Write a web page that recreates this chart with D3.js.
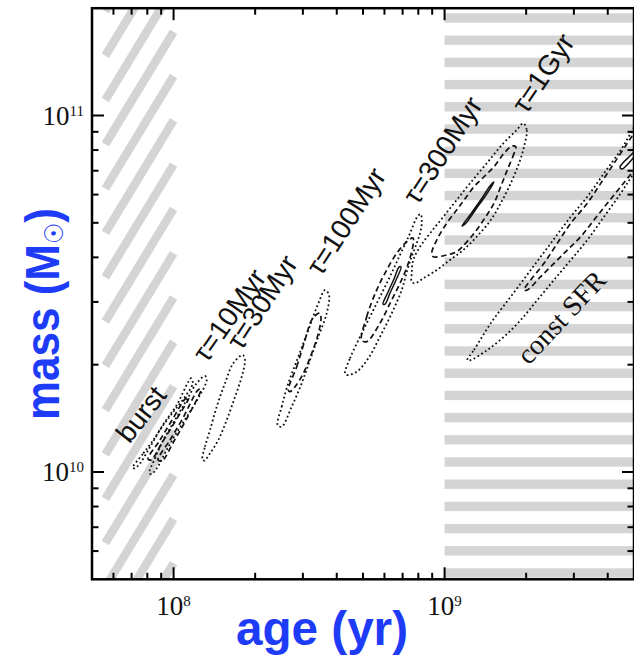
<!DOCTYPE html>
<html><head><meta charset="utf-8">
<script src="https://cdn.jsdelivr.net/npm/d3@7"></script>
<style>body{margin:0;background:#fff}svg{display:block}</style>
</head><body>
<svg id="chart" width="634" height="655"></svg>
<script>
// ---------------- DATA (age in Myr, mass in 1e10 Msun) ----------------
const burstDotted = [[70.7,1.028],[77.3,1.128],[84.2,1.229],[93.0,1.384],[102.7,1.541],[113.4,1.792],[116.0,1.832],[117.7,1.774],[110.2,1.626],[99.8,1.476],[89.1,1.312],[80.7,1.153],[75.2,1.057],[72.0,1.024]];
const burstDashed = [[80.5,1.088],[89.1,1.229],[98.7,1.399],[111.1,1.613],[114.0,1.623],[102.1,1.399],[91.4,1.222],[82.6,1.081]];
const tau10Dotted = [[81.4,0.992],[85.4,1.093],[91.6,1.229],[101.2,1.399],[111.8,1.592],[121.7,1.774],[130.6,1.859],[132.5,1.811],[125.2,1.644],[115.0,1.476],[104.1,1.312],[94.3,1.153],[86.7,1.024],[83.0,0.987]];
const tau10Dashed = [[87.6,1.081],[97.0,1.229],[108.3,1.417],[123.1,1.698],[126.3,1.709],[112.1,1.417],[100.4,1.222],[90.6,1.074]];
const tau30Dotted = [[127.7,1.086],[130.6,1.178],[136.3,1.312],[144.3,1.525],[154.8,1.774],[166.1,2.018],[179.9,2.129],[183.4,2.061],[178.4,1.850],[168.6,1.626],[157.1,1.399],[146.2,1.229],[136.3,1.128],[129.8,1.076]];
const tau100Dotted = [[242.2,1.354],[250.6,1.525],[265.1,1.774],[288.6,2.105],[314.2,2.502],[342.1,2.972],[362.0,3.239],[374.5,3.136],[367.3,2.787],[342.1,2.396],[318.7,2.061],[297.0,1.774],[272.8,1.525],[250.6,1.340]];
const tau100Dashed = [[265.1,1.698],[284.7,1.974],[305.5,2.346],[323.4,2.669],[342.1,2.787],[347.0,2.787],[350.0,2.699],[342.1,2.449],[323.4,2.152],[301.1,1.891],[280.7,1.735],[268.9,1.680]];
const tau300Dotted = [[429.1,1.891],[447.7,2.084],[494.5,2.449],[553.7,2.908],[620.1,3.457],[684.6,4.062],[745.6,4.672],[793.2,5.200],[816.4,5.290],[823.4,4.984],[811.7,4.672],[789.3,4.380],[756.2,4.017],[728.5,3.686],[694.7,3.239],[638.2,2.787],[577.6,2.396],[523.0,2.084],[474.0,1.911],[435.4,1.871]];
const tau300Dashed = [[494.5,2.346],[516.0,2.727],[561.5,3.239],[611.4,3.686],[665.8,4.107],[725.0,4.425],[764.7,4.533],[766.6,4.380],[734.9,3.849],[684.6,3.383],[629.1,2.972],[577.6,2.613],[516.0,2.320]];
const tau300Solid = [[592.5,2.959],[618.6,3.198],[650.7,3.479],[679.0,3.758],[690.7,3.758],[662.1,3.457],[629.1,3.178],[602.7,2.959]];
const tau1GDotted = [[1952,9.510],[2010,9.105],[1964,8.174],[1882,7.343],[1754,6.452],[1611,5.672],[1480,5.091],[1314,4.570],[1172,4.194],[1047,3.932],[935.5,3.686],[834.6,3.494],[778.0,3.383],[756.2,3.419],[756.2,3.609],[766.6,3.932],[811.7,4.285],[883.5,4.672],[989.4,5.200],[1108,5.794],[1241,6.452],[1430,7.343],[1647,8.356],[1846,9.105]];
const tau1GDashed = [[1830,8.174],[1804,7.831],[1704,7.033],[1611,6.314],[1522,5.672],[1418,5.200],[1284,4.672],[1163,4.285],[1108,4.149],[1018,4.062],[908.6,4.017],[896.3,4.107],[935.5,4.474],[1018,4.984],[1108,5.431],[1180,5.794],[1284,6.314],[1398,6.734],[1522,7.184],[1657,7.831],[1774,8.211]];
const tau1GSolid = [[1159,4.898],[1241,5.259],[1351,5.755],[1471,6.344],[1522,6.507],[1422,5.983],[1306,5.466],[1200,4.993]];
const constDotted = [[1213,2.061],[1284,2.199],[1480,2.613],[1754,3.102],[2079,3.686],[2464,4.380],[2921,5.200],[3362,5.918],[3875,6.886],[4466,8.001],[4862,8.914],[5490,10.36],[6509,11.06],[6236,8.537],[5000,6.886],[4466,6.051],[3875,5.200],[3362,4.474],[2921,3.932],[2534,3.457],[2199,3.036],[1910,2.669],[1657,2.396],[1438,2.199],[1249,2.061]];
const constDashed = [[1964,3.239],[2079,3.457],[2327,3.849],[2606,4.380],[2921,4.984],[3362,5.672],[3768,6.452],[4219,7.343],[4723,8.356],[5000,8.914],[5490,9.839],[5630,8.001],[5000,7.033],[4466,6.314],[3985,5.672],[3559,5.091],[3179,4.570],[2837,4.194],[2534,3.849],[2263,3.531],[2020,3.239]];
const constSolid = [[4440,7.169],[5000,7.900],[5729,8.817],[5826,8.703],[5085,7.749],[4516,7.078]];

const labelText = ["burst","τ=10Myr","τ=30Myr","τ=100Myr","τ=300Myr","τ=1Gyr","const SFR"];
const labelAge  = [75.8,160.2,212.0,432.8,982.6,2308,2689];      // Myr
const labelMass = [1.454,2.757,2.997,5.058,8.001,13.16,2.721];   // 1e10 Msun

const hatchAgeRange = [56, 100];     // Myr, excluded young ages
const stripeAgeMin = 1000;           // Myr, excluded old ages
const xDomain = [5e7, 5e9];
const yDomain = [5e9, 2e11];
const xTickExp = {1e8:"8", 1e9:"9"};
const yTickExp = {1e10:"10", 1e11:"11"};
const xTitle = "age (yr)";
const yTitle = ["mass (M", "☉", ")"];

// ---------------- STYLE ----------------
const labelAngle = [-52,-55,-57,-57,-57,-56,-47];
const labelSerif = [false,false,false,false,false,false,true];
const contours = [
  [burstDotted,"dot"],[burstDashed,"dash"],
  [tau10Dotted,"dot"],[tau10Dashed,"dash"],
  [tau30Dotted,"dot"],
  [tau100Dotted,"dot"],[tau100Dashed,"dash"],
  [tau300Dotted,"dot"],[tau300Dashed,"dash"],[tau300Solid,"solid"],
  [tau1GDotted,"dot"],[tau1GDashed,"dash"],[tau1GSolid,"solid"],
  [constDotted,"dot"],[constDashed,"dash"],[constSolid,"solid"]
];
const gray = "#d4d4d4";
const blue = "#1e3cf8";
const plot = {left:92, right:634, top:8.2, bottom:579.3};

const svg = d3.select("#chart");
const x = d3.scaleLog().domain(xDomain).range([plot.left, plot.right]);
const y = d3.scaleLog().domain(yDomain).range([plot.bottom, plot.top]);

svg.append("defs").append("clipPath").attr("id","clip")
  .append("rect").attr("x",plot.left).attr("y",plot.top)
  .attr("width",plot.right-plot.left).attr("height",plot.bottom-plot.top);
const g = svg.append("g").attr("clip-path","url(#clip)");

// hatch (diagonal bars) for young ages
const hx0 = x(hatchAgeRange[0]*1e6), hx1 = x(hatchAgeRange[1]*1e6);
const rise = (hx1-hx0)*1.65;
for (let k=-4; k<16; k++) {
  const yr = plot.top + 23.5 + 44.3*k;
  g.append("line").attr("x1",hx0).attr("y1",yr+rise).attr("x2",hx1).attr("y2",yr)
    .attr("stroke",gray).attr("stroke-width",8.5).attr("stroke-linecap","butt");
}
// horizontal stripes for old ages
const sx0 = x(stripeAgeMin*1e6);
for (let k=0; k<26; k++) {
  g.append("rect").attr("x",sx0).attr("y",plot.top+5.1+22.2*k)
    .attr("width",plot.right-sx0).attr("height",9.4).attr("fill",gray);
}

// contours
const line = d3.line().x(d=>x(d[0]*1e6)).y(d=>y(d[1]*1e10))
  .curve(d3.curveCatmullRomClosed.alpha(0.5));
contours.forEach(([pts,style])=>{
  const p = g.append("path").attr("d",line(pts)).attr("fill","none").attr("stroke","#111");
  if (style==="dot") p.attr("stroke-width",1.8).attr("stroke-dasharray","1.8,2.6");
  else if (style==="dash") p.attr("stroke-width",1.7).attr("stroke-dasharray","5.5,3.5");
  else p.attr("stroke-width",1.5);
});

// labels
labelText.forEach((t,i)=>{
  svg.append("text")
    .attr("transform",`translate(${x(labelAge[i]*1e6)},${y(labelMass[i]*1e10)}) rotate(${labelAngle[i]})`)
    .attr("text-anchor","middle").attr("dy","0.35em")
    .style("font-family", labelSerif[i] ? "'Liberation Serif','Times New Roman',serif" : "'Liberation Sans',Arial,sans-serif")
    .style("font-size", labelSerif[i] ? "28px" : "28px")
    .attr("fill","#111").text(t);
});

// axes frame
svg.append("rect").attr("x",plot.left).attr("y",plot.top)
  .attr("width",plot.right-plot.left).attr("height",plot.bottom-plot.top)
  .attr("fill","none").attr("stroke","#000").attr("stroke-width",2.5);
const isMajor = v => Math.abs(Math.log10(v)-Math.round(Math.log10(v)))<1e-9;
const axes = svg.append("g").attr("stroke","#000").attr("stroke-width",2);
x.ticks().filter(v=>v>xDomain[0]*1.001 && v<xDomain[1]*0.999).forEach(v=>{
  const L = isMajor(v)?12:6.5, px = x(v);
  axes.append("line").attr("x1",px).attr("x2",px).attr("y1",plot.bottom).attr("y2",plot.bottom-L);
  axes.append("line").attr("x1",px).attr("x2",px).attr("y1",plot.top).attr("y2",plot.top+L);
});
y.ticks().filter(v=>v>yDomain[0]*1.001 && v<yDomain[1]*0.999).forEach(v=>{
  const L = isMajor(v)?12:6.5, py = y(v);
  axes.append("line").attr("y1",py).attr("y2",py).attr("x1",plot.left).attr("x2",plot.left+L);
  axes.append("line").attr("y1",py).attr("y2",py).attr("x1",plot.right).attr("x2",plot.right-L);
});
const serif = "'Liberation Serif','Times New Roman',serif";
Object.keys(xTickExp).forEach(k=>{
  const v = +k;
  const t = svg.append("text").attr("x",x(v)).attr("y",plot.bottom+36)
    .attr("text-anchor","middle").style("font-family",serif).style("font-size","27px").attr("fill","#111");
  t.append("tspan").text("10");
  t.append("tspan").attr("dy",-9).style("font-size","15px").text(xTickExp[k]);
});
Object.keys(yTickExp).forEach(k=>{
  const v = +k;
  const t = svg.append("text").attr("x",84).attr("y",y(v)+9.5)
    .attr("text-anchor","end").style("font-family",serif).style("font-size","27px").attr("fill","#111");
  t.append("tspan").text("10");
  t.append("tspan").attr("dy",-9).style("font-size","15px").text(yTickExp[k]);
});

// axis titles
svg.append("text").attr("x",322).attr("y",645).attr("text-anchor","middle")
  .attr("textLength",172).attr("lengthAdjust","spacingAndGlyphs")
  .style("font-family","'Liberation Sans',Arial,sans-serif").style("font-weight","bold")
  .style("font-size","48px").attr("fill",blue).text(xTitle);
const yt = svg.append("text").attr("transform","translate(59,314) rotate(-90)")
  .attr("text-anchor","middle").attr("textLength",212).attr("lengthAdjust","spacingAndGlyphs")
  .style("font-family","'Liberation Sans',Arial,sans-serif").style("font-weight","bold")
  .style("font-size","48px").attr("fill",blue);
yt.append("tspan").text(yTitle[0]);
yt.append("tspan").attr("dy",4).style("font-size","26px").style("font-family","'DejaVu Sans',sans-serif").style("font-weight","bold").text(yTitle[1]);
yt.append("tspan").attr("dy",-4).text(yTitle[2]);
</script>
</body></html>
